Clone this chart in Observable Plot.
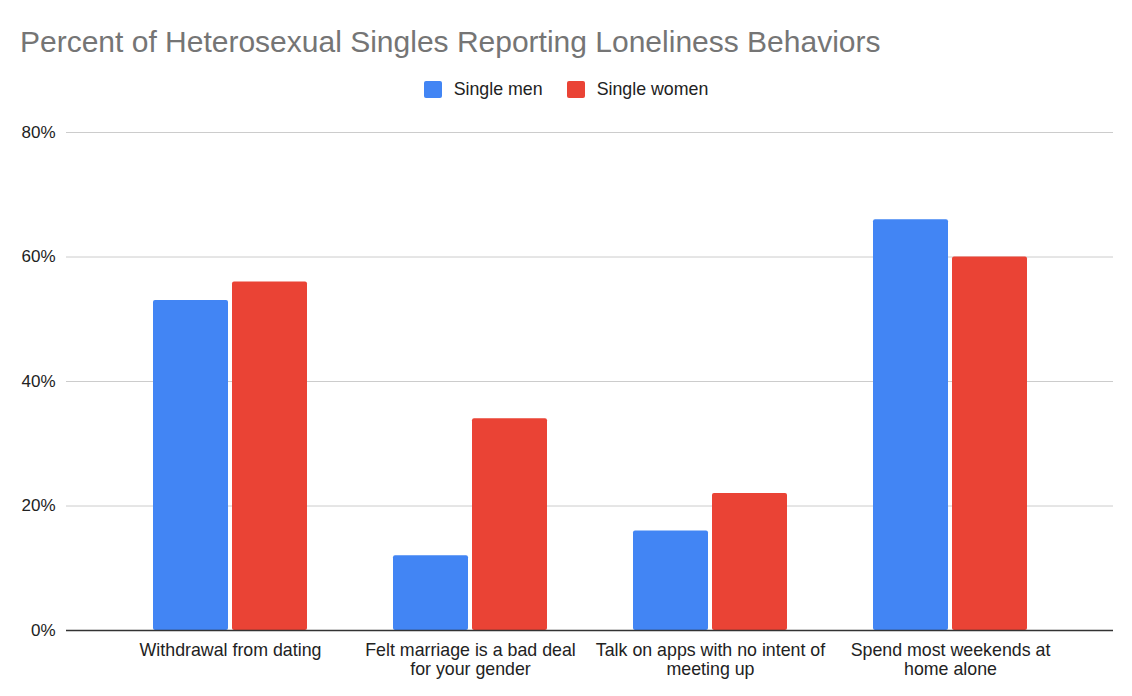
<!DOCTYPE html>
<html>
<head>
<meta charset="utf-8">
<script src="https://cdn.jsdelivr.net/npm/d3@7"></script>
<script src="https://cdn.jsdelivr.net/npm/@observablehq/plot@0.6"></script>
<style>
  html, body { margin: 0; padding: 0; background: #fff; }
  body { width: 1132px; height: 696px; overflow: hidden; font-family: Arial, "Liberation Sans", Helvetica, sans-serif; }
  #header { position: relative; height: 110px; }
  #title { position: absolute; left: 20px; top: 27px; font-size: 30px; line-height: 30px; color: #757575; white-space: nowrap; }
  #legend { position: absolute; left: 0; width: 1132px; top: 80px; height: 18px; display: flex; justify-content: center; align-items: center; font-size: 17.8px; line-height: 18px; color: #222; }
  .item { display: flex; align-items: center; margin: 0 12px; }
  .sw { width: 18px; height: 17px; border-radius: 2px; margin-right: 12px; }
  #chart svg { display: block; }
</style>
</head>
<body>
<div id="header">
  <div id="title"></div>
  <div id="legend"></div>
</div>
<div id="chart"></div>
<script>
const title = "Percent of Heterosexual Singles Reporting Loneliness Behaviors";
const categories = [
  "Withdrawal from dating",
  "Felt marriage is a bad deal for your gender",
  "Talk on apps with no intent of meeting up",
  "Spend most weekends at home alone"
];
const categoryLabels = [
  "Withdrawal from dating",
  "Felt marriage is a bad deal\nfor your gender",
  "Talk on apps with no intent of\nmeeting up",
  "Spend most weekends at\nhome alone"
];
const seriesNames = ["Single men", "Single women"];
const seriesColors = ["#4285F4", "#EA4335"];
const singleMen = [53, 12, 16, 66];
const singleWomen = [56, 34, 22, 60];
const yTicks = [0, 20, 40, 60, 80];

document.getElementById("title").textContent = title;
const legend = document.getElementById("legend");
seriesNames.forEach((name, i) => {
  const item = document.createElement("div");
  item.className = "item";
  const sw = document.createElement("div");
  sw.className = "sw";
  sw.style.background = seriesColors[i];
  const label = document.createElement("span");
  label.textContent = name;
  item.appendChild(sw);
  item.appendChild(label);
  legend.appendChild(item);
});

const menData = categories.map((c, i) => ({category: c, value: singleMen[i]}));
const womenData = categories.map((c, i) => ({category: c, value: singleWomen[i]}));
const labelOf = new Map(categories.map((c, i) => [c, categoryLabels[i]]));

const chart = Plot.plot({
  width: 1132,
  height: 586,
  marginTop: 22,
  marginBottom: 66,
  marginLeft: 66,
  marginRight: 19,
  style: { fontFamily: 'Arial, "Liberation Sans", Helvetica, sans-serif', fontSize: "17px", color: "#222", background: "#fff" },
  x: { domain: categories, paddingInner: 0.36, paddingOuter: 0.36 },
  y: { domain: [0, 80] },
  marks: [
    Plot.gridY(yTicks, { stroke: "#cccccc", strokeOpacity: 1, strokeWidth: 1 }),
    Plot.barY(menData, { x: "category", y: "value", fill: seriesColors[0], insetRight: 79, rx: 2 }),
    Plot.barY(womenData, { x: "category", y: "value", fill: seriesColors[1], insetLeft: 79, rx: 2 }),
    Plot.ruleY([0], { stroke: "#333", strokeWidth: 1.3 }),
    Plot.axisY(yTicks, { tickSize: 0, tickPadding: 11, tickFormat: d => d + "%", fontSize: 17, fill: "#222", label: null }),
    Plot.axisX({ tickSize: 0, tickPadding: 13, tickFormat: d => labelOf.get(d), fontSize: 17.8, fill: "#222", lineHeight: 1.02, label: null })
  ]
});
document.getElementById("chart").appendChild(chart);
</script>
</body>
</html>
